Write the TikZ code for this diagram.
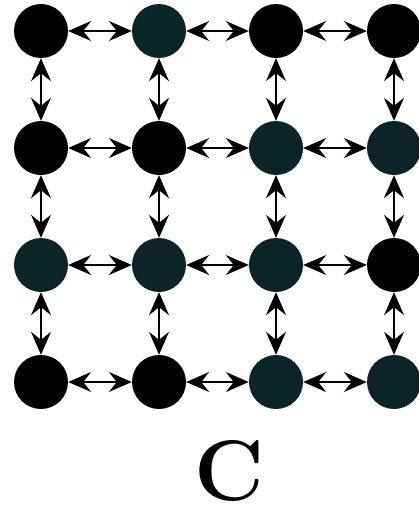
\documentclass[tikz,border=0pt]{standalone}
\usetikzlibrary{arrows.meta}
\definecolor{nodeteal}{HTML}{0C2427}
\begin{document}
\begin{tikzpicture}[x=1pt,y=-1pt,
  dot/.style={circle,minimum size=54pt,inner sep=0pt,fill=black},
  tealdot/.style={dot,fill=nodeteal},
  link/.style={line width=1.2pt,{Stealth[length=23pt,width=20pt,inset=8pt]}-{Stealth[length=23pt,width=20pt,inset=8pt]}}]
\useasboundingbox (0,0) rectangle (419,514);
% row 0
\node[dot]     (n00) at (41,31)  {};
\node[tealdot] (n01) at (159,31) {};
\node[dot]     (n02) at (276,31) {};
\node[dot]     (n03) at (394,31) {};
% row 1
\node[dot]     (n10) at (41,148)  {};
\node[dot]     (n11) at (159,148) {};
\node[tealdot] (n12) at (276,148) {};
\node[tealdot] (n13) at (394,148) {};
% row 2
\node[tealdot] (n20) at (41,265)  {};
\node[tealdot] (n21) at (159,265) {};
\node[tealdot] (n22) at (276,265) {};
\node[dot]     (n23) at (394,265) {};
% row 3
\node[dot]     (n30) at (41,382)  {};
\node[dot]     (n31) at (159,382) {};
\node[tealdot] (n32) at (276,382) {};
\node[tealdot] (n33) at (394,382) {};
% horizontal links
\foreach \r in {0,1,2,3}{
  \draw[link] (n\r0) -- (n\r1);
  \draw[link] (n\r1) -- (n\r2);
  \draw[link] (n\r2) -- (n\r3);
}
% vertical links
\foreach \c in {0,1,2,3}{
  \draw[link] (n0\c) -- (n1\c);
  \draw[link] (n1\c) -- (n2\c);
  \draw[link] (n2\c) -- (n3\c);
}
\node[font=\fontsize{86}{86}\selectfont\bfseries,inner sep=0pt] (lbl) at (229,471) {C};
\end{tikzpicture}
\end{document}
